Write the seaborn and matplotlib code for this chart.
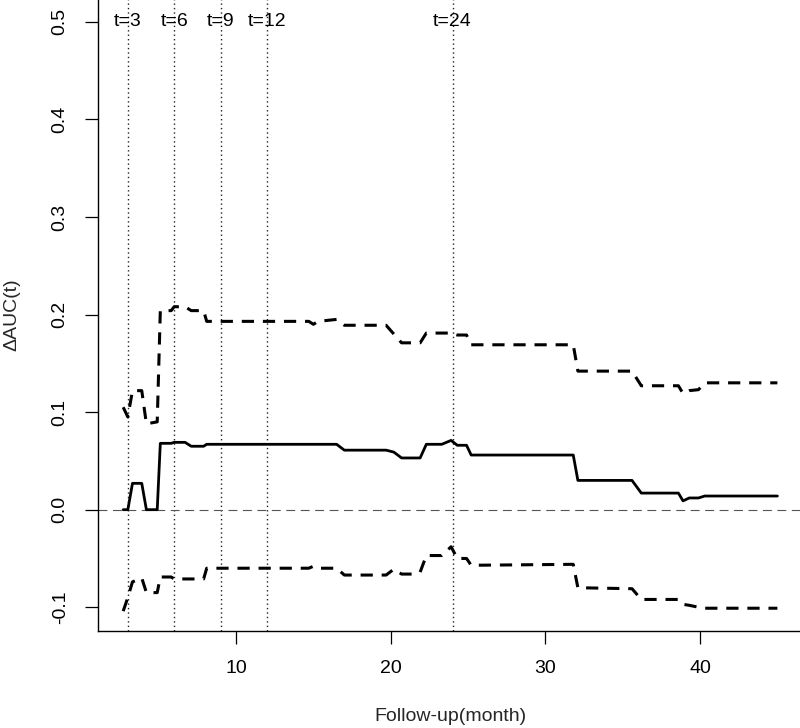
import pandas as pd
import matplotlib
matplotlib.use("Agg")
import matplotlib.pyplot as plt
import seaborn as sns

# follow-up time (months) and delta AUC with its confidence band
time = [2.7, 3.0, 3.3, 3.9, 4.2, 4.9, 5.1, 5.8, 6.0, 6.7, 7.1, 7.9, 8.1,
        14.7, 15.0, 15.3, 16.5, 17.0, 19.7, 20.2, 20.7, 21.5, 21.9, 22.3,
        23.3, 23.9, 24.3, 24.9, 25.2, 31.8, 32.1, 35.6, 36.2, 38.6, 38.9,
        39.3, 39.9, 40.3, 45.0]
delta_auc = [0.0, 0.0, 0.027, 0.027, 0.0, 0.0, 0.068, 0.068, 0.069, 0.069,
             0.065, 0.065, 0.067, 0.067, 0.067, 0.067, 0.067, 0.061, 0.061,
             0.059, 0.053, 0.053, 0.053, 0.067, 0.067, 0.071, 0.066, 0.066,
             0.056, 0.056, 0.030, 0.030, 0.017, 0.017, 0.009, 0.012, 0.012,
             0.014, 0.014]
upper = [0.105, 0.095, 0.122, 0.122, 0.088, 0.090, 0.204, 0.204, 0.208,
         0.208, 0.204, 0.204, 0.193, 0.193, 0.190, 0.193, 0.195, 0.189,
         0.189, 0.180, 0.171, 0.171, 0.171, 0.181, 0.181, 0.181, 0.179,
         0.179, 0.169, 0.169, 0.142, 0.142, 0.127, 0.127, 0.119, 0.122,
         0.123, 0.130, 0.130]
lower = [-0.104, -0.090, -0.074, -0.070, -0.085, -0.085, -0.069, -0.069,
         -0.071, -0.071, -0.071, -0.071, -0.060, -0.060, -0.058, -0.060,
         -0.060, -0.067, -0.067, -0.061, -0.066, -0.066, -0.064, -0.047,
         -0.047, -0.038, -0.050, -0.050, -0.057, -0.056, -0.080, -0.081,
         -0.092, -0.092, -0.097, -0.098, -0.100, -0.101, -0.101]

t_marks = [3, 6, 9, 12, 24]
t_labels = ["t=3", "t=6", "t=9", "t=12", "t=24"]
x_ticks = [10, 20, 30, 40]
y_ticks = [-0.1, 0.0, 0.1, 0.2, 0.3, 0.4, 0.5]
y_tick_labels = ["-0.1", "0.0", "0.1", "0.2", "0.3", "0.4", "0.5"]

df = pd.DataFrame({"time": time, "delta": delta_auc, "upper": upper, "lower": lower})

sns.set_style("ticks")
plt.rcParams["font.family"] = ["Liberation Sans", "DejaVu Sans"]

fig = plt.figure(figsize=(8, 7.28), dpi=100)
ax = fig.add_axes([0.1221, 0.1337, 0.8825, 0.8685])

# reference lines
for t in t_marks:
    ax.axvline(t, color="#222222", lw=1.0, linestyle=(0, (1, 2.2)), zorder=1)
ax.axhline(0, color="#555555", lw=0.8, linestyle=(0, (8, 5)), zorder=1)

sns.lineplot(data=df, x="time", y="delta", ax=ax, color="black", lw=2.0,
             estimator=None, sort=False)
sns.lineplot(data=df, x="time", y="upper", ax=ax, color="black", lw=2.2,
             linestyle=(0, (4, 2.9)), estimator=None, sort=False)
sns.lineplot(data=df, x="time", y="lower", ax=ax, color="black", lw=2.2,
             linestyle=(0, (4, 2.9)), estimator=None, sort=False)

for t, lab in zip(t_marks, t_labels):
    ax.text(t, 0.5, lab, ha="center", va="center", fontsize=14, color="black")

ax.set_xlim(1.05, 46.7)
ax.set_ylim(-0.124, 0.524)
ax.set_xticks(x_ticks)
ax.set_xticklabels([str(v) for v in x_ticks])
ax.set_yticks(y_ticks)
ax.set_yticklabels(y_tick_labels, rotation=90, va="center")

sns.despine(ax=ax)
for side in ["left", "bottom"]:
    ax.spines[side].set_color("black")
    ax.spines[side].set_linewidth(1.0)
ax.tick_params(axis="both", direction="out", length=9.4, width=0.9,
               colors="black", labelsize=14, pad=11.5)

ax.set_xlabel("Follow-up(month)", fontsize=14)
ax.set_ylabel("ΔAUC(t)", fontsize=14)
ax.xaxis.set_label_coords(0.5, -0.1365)
ax.xaxis.label.set_va("center")
ax.yaxis.set_label_coords(-0.1214, 0.5)
ax.yaxis.label.set_va("center")

fig.savefig("out.png", dpi=100)
